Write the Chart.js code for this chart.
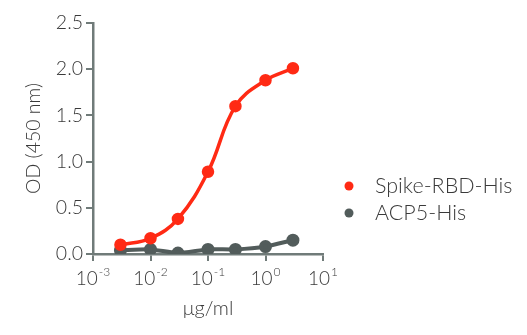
<!DOCTYPE html>
<html>
<head>
<meta charset="utf-8">
<script src="https://cdn.jsdelivr.net/npm/chart.js@4/dist/chart.umd.min.js"></script>
<style>
html,body{margin:0;padding:0;background:#fff;}
#wrap{width:527px;height:335px;position:relative;}
</style>
</head>
<body>
<div id="wrap"><canvas id="c" width="527" height="335"></canvas></div>
<script>
const concentrations = [0.003, 0.01, 0.03, 0.1, 0.3, 1, 3];
const spikeRBD = [0.10, 0.17, 0.38, 0.89, 1.60, 1.88, 2.01];
const acp5 = [0.04, 0.05, 0.01, 0.05, 0.05, 0.08, 0.15];
const xTickExponents = [-3, -2, -1, 0, 1];
const yTickValues = [0, 0.5, 1.0, 1.5, 2.0, 2.5];
const seriesLabels = ['Spike-RBD-His', 'ACP5-His'];

const RED = '#ff2a14';
const GRAY = '#525c5b';
const AXIS = '#707b79';
const TEXT = '#3a3a3a';
const FONT = 'Lato, "Open Sans", sans-serif';

function pts(vals){ return concentrations.map((x,i)=>({x:x,y:vals[i]})); }

const customDraw = {
  id:'customDraw',
  afterDraw(chart){
    const ctx = chart.ctx;
    const xs = chart.scales.x;
    ctx.save();
    ctx.fillStyle = TEXT;
    ctx.textBaseline = 'alphabetic';
    xTickExponents.forEach(e=>{
      const px = xs.getPixelForValue(Math.pow(10,e));
      const base = '10';
      const sup = e < 0 ? '-' + Math.abs(e) : String(e);
      ctx.font = '300 19px ' + FONT;
      const wb = ctx.measureText(base).width;
      ctx.font = '300 12px ' + FONT;
      const ws = ctx.measureText(sup).width;
      const total = wb + ws + 1;
      const x0 = px - total/2;
      const yb = xs.top + 31;
      ctx.font = '300 19px ' + FONT;
      ctx.textAlign = 'left';
      ctx.fillText(base, x0, yb);
      ctx.font = '300 12px ' + FONT;
      ctx.fillText(sup, x0 + wb + 1, yb - 9);
    });
    // legend
    const items = chart.data.datasets;
    items.forEach((ds,i)=>{
      const y = 186 + i*27;
      ctx.beginPath();
      ctx.fillStyle = ds.pointBackgroundColor;
      ctx.arc(349, y, 4.5, 0, Math.PI*2);
      ctx.fill();
      ctx.fillStyle = TEXT;
      ctx.font = '300 21.5px ' + FONT;
      ctx.textAlign = 'left';
      ctx.textBaseline = 'middle';
      ctx.fillText(ds.label, 375, y);
    });
    ctx.restore();
  }
};

new Chart(document.getElementById('c'), {
  type:'line',
  data:{
    datasets:[
      {label:seriesLabels[0], data:pts(spikeRBD), borderColor:RED, backgroundColor:RED,
       pointBackgroundColor:RED, pointBorderColor:RED, pointRadius:4.5, borderWidth:3.5,
       tension:0.4, fill:false},
      {label:seriesLabels[1], data:pts(acp5), borderColor:GRAY, backgroundColor:GRAY,
       pointBackgroundColor:GRAY, pointBorderColor:GRAY, pointRadius:4.5, borderWidth:4,
       tension:0.2, fill:false}
    ]
  },
  options:{
    responsive:false,
    animation:false,
    devicePixelRatio:1,
    layout:{padding:{left:0,right:204,top:23,bottom:0}},
    plugins:{legend:{display:false}, tooltip:{enabled:false}},
    scales:{
      x:{
        type:'logarithmic', min:0.001, max:10,
        afterBuildTicks(s){ s.ticks = xTickExponents.map(e=>({value:Math.pow(10,e)})); },
        afterFit(s){ s.height = 81; },
        grid:{drawOnChartArea:false, drawTicks:true, tickLength:7, color:AXIS, lineWidth:2},
        border:{color:AXIS, width:2.5},
        ticks:{color:'rgba(0,0,0,0)', callback:()=> '10', font:{size:19, family:FONT}},
        title:{display:true, text:'μg/ml', color:TEXT, font:{size:20, family:FONT, weight:'300'}, padding:{top:0,bottom:14}}
      },
      y:{
        min:0, max:2.5,
        afterBuildTicks(s){ s.ticks = yTickValues.map(v=>({value:v})); },
        afterFit(s){ s.width = 93; },
        grid:{drawOnChartArea:false, drawTicks:true, tickLength:7, color:AXIS, lineWidth:2},
        border:{color:AXIS, width:2.5},
        ticks:{color:TEXT, padding:3, font:{size:19.5, family:FONT, weight:'300'}, callback:(v)=>Number(v).toFixed(1)},
        title:{display:true, text:'OD (450 nm)', color:TEXT, font:{size:19.5, family:FONT, weight:'300'}, padding:{top:22,bottom:0}}
      }
    }
  },
  plugins:[customDraw]
});
</script>
</body>
</html>
